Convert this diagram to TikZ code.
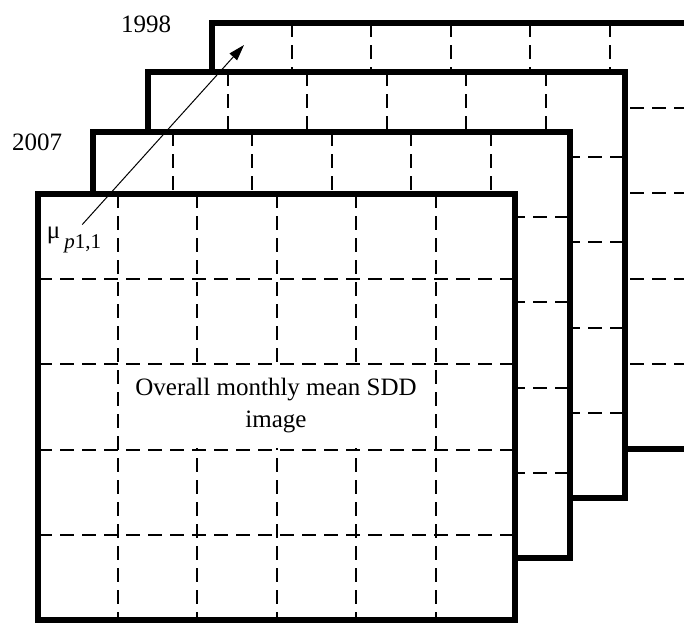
\documentclass[tikz,border=0pt]{standalone}
\usepackage{fontspec}
\setmainfont{Liberation Serif}
\usetikzlibrary{arrows.meta}

% one image layer, top left corner given in px
\newcommand{\sddlayer}[2]{%
  \fill[white] (#1,#2) rectangle ++(477,426);
  \foreach \i in {1,...,5}
    \draw[gridline] (#1+\i*79.5,#2) -- ++(0,426);
  \foreach \j in {1,...,4}
    \draw[gridline] (#1,#2+\j*85.2) -- ++(477,0);
  \draw[layerbox] (#1,#2) rectangle ++(477,426);
}

\begin{document}
\begin{tikzpicture}[x=0.5pt, y=-0.5pt,
    layerbox/.style={line width=2.8pt, line join=miter},
    gridline/.style={line width=1pt, dash pattern=on 7pt off 4pt},
    yearlabel/.style={font=\fontsize{12.5}{15}\selectfont, inner sep=1pt},
    caption/.style={fill=white, align=center, minimum width=148pt, minimum height=41.5pt,
                    font=\fontsize{12.5}{16}\selectfont, inner sep=0pt}]
    \clip (0,0) rectangle (684,623);

    % stack of layers, back to front
    \sddlayer{212}{23}
    \sddlayer{148}{72}
    \sddlayer{93}{132}
    \sddlayer{38}{194}

    \node[yearlabel] (y1998) at (146,24) {1998};
    \node[yearlabel] (y2007) at (37,142) {2007};
    \node[yearlabel] (mu) at (74,240) {μ\,\raisebox{-5pt}{\fontsize{10.5}{12}\selectfont\textit{p}1,1}};
    \coordinate (tip) at (244,45);
    \draw[-{Triangle[length=8pt, width=5pt]}, line width=0.5pt] (mu.62) -- (tip);

    \node[caption] (title) at (276,406) {Overall monthly mean SDD\\image};
\end{tikzpicture}
\end{document}
